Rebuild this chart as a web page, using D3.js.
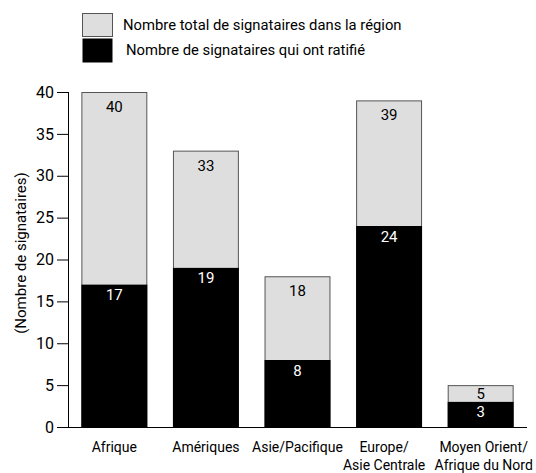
<!DOCTYPE html>
<html>
<head>
<meta charset="utf-8">
<script src="https://cdn.jsdelivr.net/npm/d3@7"></script>
<style>
  body { margin: 0; background: #fff; }
  svg { display: block; }
  text { font-family: Roboto, "Liberation Sans", sans-serif; fill: #000; }
</style>
</head>
<body>
<svg id="chart" width="536" height="473"></svg>
<script>
const categories = [["Afrique"], ["Amériques"], ["Asie/Pacifique"], ["Europe/", "Asie Centrale"], ["Moyen Orient/", "Afrique du Nord"]];
const totalSignataires = [40, 33, 18, 39, 5];
const ratifie = [17, 19, 8, 24, 3];
const yTicks = [0, 5, 10, 15, 20, 25, 30, 35, 40];
const legendLabels = ["Nombre total de signataires dans la région", "Nombre de signataires qui ont ratifié"];
const yTitle = "(Nombre de signataires)";

const svg = d3.select("#chart");
const FS = 14;

const x = d3.scaleBand().domain(d3.range(categories.length)).range([68, 527]).paddingInner(0.28).paddingOuter(0.146);
const y = d3.scaleLinear().domain([0, 40]).range([427, 92]);

// total bars
svg.append("g").selectAll("rect").data(totalSignataires).join("rect")
  .attr("x", (d, i) => x(i) + 0.5)
  .attr("y", d => y(d) + 0.5)
  .attr("width", x.bandwidth() - 1)
  .attr("height", d => y(0) - y(d) - 0.5)
  .attr("fill", "#dedede")
  .attr("stroke", "#555")
  .attr("stroke-width", 1);

// ratified bars
svg.append("g").selectAll("rect").data(ratifie).join("rect")
  .attr("x", (d, i) => x(i))
  .attr("y", d => y(d))
  .attr("width", x.bandwidth())
  .attr("height", d => y(0) - y(d))
  .attr("fill", "#000");

// labels
svg.append("g").selectAll("text").data(totalSignataires).join("text")
  .attr("x", (d, i) => x(i) + x.bandwidth() / 2)
  .attr("y", (d, i) => y(d) + Math.min(20, y(ratifie[i]) - y(d) - 2.5))
  .attr("text-anchor", "middle")
  .style("font-size", "15px")
  .text(d => d);

svg.append("g").selectAll("text").data(ratifie).join("text")
  .attr("x", (d, i) => x(i) + x.bandwidth() / 2)
  .attr("y", d => y(d) + 15.5)
  .attr("text-anchor", "middle")
  .style("font-size", "15px")
  .style("fill", "#fff")
  .text(d => d);

// y axis
const yAxis = d3.axisLeft(y).tickValues(yTicks).tickSize(11).tickPadding(3);
const gy = svg.append("g").attr("transform", "translate(68,0)").call(yAxis);
gy.select(".domain").attr("stroke", "#000").attr("d", `M0.5,${y(40)}V${y(0)}`);
gy.selectAll(".tick line").attr("stroke", "#000");
gy.selectAll(".tick text").style("font-size", "16px").attr("fill", "#000")
  .style("font-family", 'Roboto, sans-serif');

// x axis line
svg.append("line").attr("x1", 68).attr("x2", 527).attr("y1", y(0) + 0.5).attr("y2", y(0) + 0.5)
  .attr("stroke", "#000").attr("stroke-width", 1);

// x labels
const xl = svg.append("g").selectAll("text").data(categories).join("text")
  .attr("text-anchor", "middle")
  .style("font-size", FS + "px")
  .attr("transform", (d, i) => {
    let cx = x(i) + x.bandwidth() / 2;
    if (i === 3) cx -= 5;
    if (i === 4) cx += 3;
    return `translate(${cx},451.5)`;
  });
xl.selectAll("tspan").data(d => d).join("tspan")
  .attr("x", 0).attr("dy", (d, j) => j === 0 ? 0 : 18).text(d => d);

// y title
svg.append("text")
  .attr("transform", "translate(26,253) rotate(-90)")
  .attr("text-anchor", "middle")
  .style("font-size", "15px")
  .text(yTitle);

// legend
const legColors = ["#dedede", "#000"];
const leg = svg.append("g");
legColors.forEach((c, i) => {
  leg.append("rect").attr("x", 82.5).attr("y", 13.5 + i * 25).attr("width", 30).attr("height", i === 0 ? 23 : 24)
    .attr("fill", c).attr("stroke", i === 0 ? "#555" : "none");
  leg.append("text").attr("x", i === 0 ? 123 : 126).attr("y", 30 + i * 25)
    .style("font-size", "14.8px").text(legendLabels[i]);
});
</script>
</body>
</html>
